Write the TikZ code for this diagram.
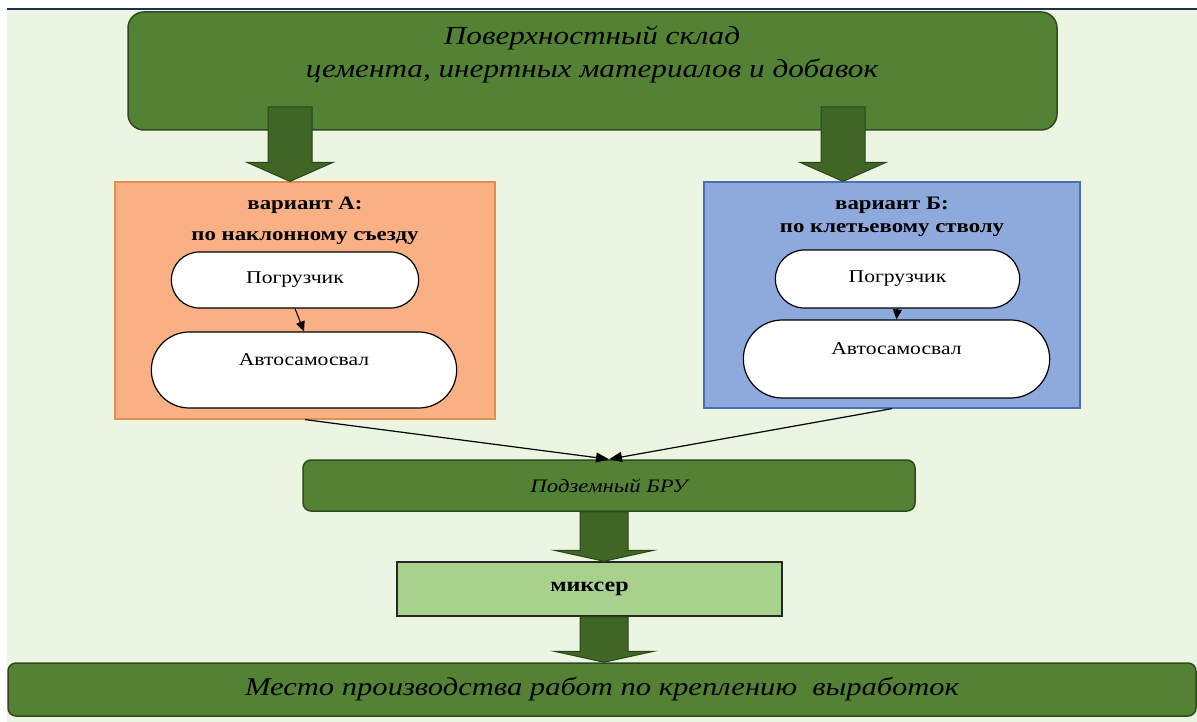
\documentclass[tikz,border=0pt]{standalone}
\usepackage{fontspec}
\setmainfont{Liberation Serif}[FakeStretch=1.2]
\usetikzlibrary{arrows.meta,calc,shapes.misc}

\definecolor{pagebg}{HTML}{EBF5E1}
\definecolor{topline}{HTML}{1F2F4F}
\definecolor{boxgreen}{HTML}{548235}
\definecolor{boxline}{HTML}{2E4A1E}
\definecolor{arrowgreen}{HTML}{3F6624}
\definecolor{arrowline}{HTML}{2B4518}
\definecolor{fillA}{HTML}{F8B084}
\definecolor{lineA}{HTML}{E0904E}
\definecolor{fillB}{HTML}{8EA9DB}
\definecolor{lineB}{HTML}{4A6FB5}
\definecolor{mixfill}{HTML}{A9D18E}

\tikzset{
  greenbox/.style={draw=boxline, fill=boxgreen, rounded corners=8pt, line width=1.5pt},
  boxA/.style={draw=lineA, fill=fillA, line width=1.2pt},
  boxB/.style={draw=lineB, fill=fillB, line width=1.2pt},
  capsule/.style={rounded rectangle, draw=black, fill=white, line width=1.2pt,
    font=\fontsize{18}{22}\selectfont},
  mixbox/.style={draw=black!85, fill=mixfill, line width=1.5pt,
    font=\fontsize{20}{24}\selectfont\bfseries},
  titletext/.style={align=center, font=\fontsize{19}{#1}\selectfont\bfseries},
  bigarr/.style={fill=arrowgreen, draw=arrowline, line width=1pt},
  smallarr/.style={-{Triangle[length=10pt,width=9pt]}, line width=1pt},
  feedarr/.style={-{Triangle[length=13pt,width=10pt]}, line width=1.2pt}
}

% from, tip, half shaft, half head, head length
\newcommand{\bigarrow}[5]{%
  \draw[bigarr] ($(#1)+(-#3,0)$) -- ($(#2)+(-#3,-#5)$) -- ($(#2)+(-#4,-#5)$)
    -- (#2) -- ($(#2)+(#4,-#5)$) -- ($(#2)+(#3,-#5)$) -- ($(#1)+(#3,0)$) -- cycle;}

\begin{document}
\begin{tikzpicture}[x=1pt,y=-1pt]
\useasboundingbox (0,0) rectangle (1197,722);
\fill[pagebg] (7,9) rectangle (1197,722);
\draw[topline, line width=2pt] (7,9) -- (1197,9);

\node[greenbox, rounded corners=16pt, minimum width=929pt, minimum height=118pt] (store) at (592.5,71) {};
\node[align=center, font=\fontsize{26}{33}\selectfont\itshape] (storetext) at (592,55)
  {Поверхностный склад\\цемента, инертных материалов и добавок};

\node[boxA, minimum width=380pt, minimum height=237pt] (varA) at (305,300.5) {};
\node[titletext=31pt] (titleA) at (305,221) {вариант А:\\по наклонному съезду};
\node[capsule, minimum width=254pt, minimum height=56pt] (loadA) at (295,280) {Погрузчик};
\node[capsule, minimum width=312pt, minimum height=76pt, text depth=20pt] (truckA) at (304,370) {Автосамосвал};
\draw[smallarr] (loadA.south) -- (truckA.north);

\node[boxB, minimum width=376pt, minimum height=226pt] (varB) at (892,295) {};
\node[titletext=23pt] (titleB) at (892,217) {вариант Б:\\по клетьевому стволу};
\node[capsule, minimum width=251pt, minimum height=58pt] (loadB) at (897.5,279) {Погрузчик};
\node[capsule, minimum width=313pt, minimum height=78pt, text depth=20pt] (truckB) at (896.5,359) {Автосамосвал};
\draw[smallarr] (loadB.south) -- (truckB.north);

\coordinate (inA) at (290,107);
\coordinate (tipA) at (inA |- varA.north);
\bigarrow{inA}{tipA}{22}{43}{19}
\coordinate (inB) at (843,107);
\coordinate (tipB) at (inB |- varB.north);
\bigarrow{inB}{tipB}{22}{43}{19}

\node[greenbox, minimum width=612pt, minimum height=51pt, font=\fontsize{19}{23}\selectfont\itshape] (bru) at (609,485.5) {Подземный БРУ};
\draw[feedarr] (varA.south) -- (bru.north);
\draw[feedarr] (varB.south) -- (bru.north);

\node[mixbox, minimum width=385pt, minimum height=54pt] (mixer) at (589.5,589) {миксер};
\node[greenbox, minimum width=1188pt, minimum height=53pt, font=\fontsize{25.5}{30}\selectfont\itshape] (site) at (602,689.5)
  {Место производства работ по креплению\ \ выработок};

\coordinate (outB) at ([xshift=-5pt]bru.south);
\coordinate (tipM) at (outB |- mixer.north);
\bigarrow{outB}{tipM}{24}{50}{11}
\coordinate (outM) at (outB |- mixer.south);
\coordinate (tipS) at (outM |- site.north);
\bigarrow{outM}{tipS}{24}{50}{11}
\end{tikzpicture}
\end{document}
